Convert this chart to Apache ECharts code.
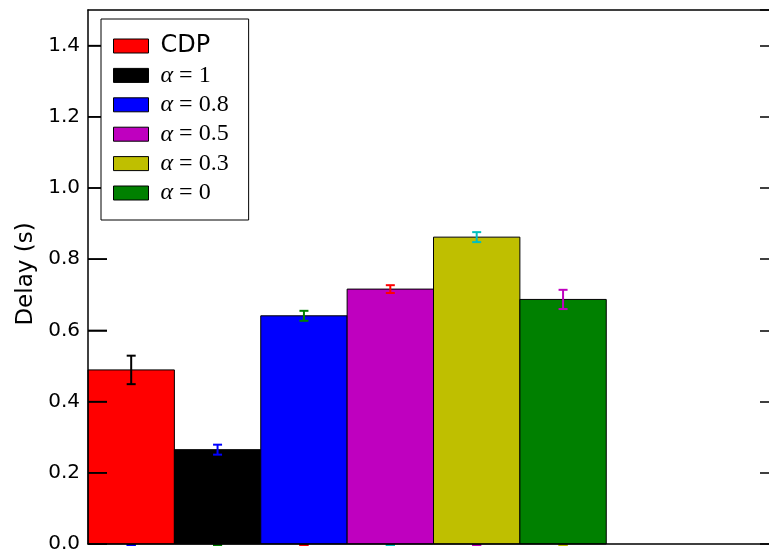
<!DOCTYPE html>
<html>
<head>
<meta charset="utf-8">
<script src="https://cdn.jsdelivr.net/npm/echarts@6/dist/echarts.min.js"></script>
<style>
  html, body { margin: 0; padding: 0; background: #fff; }
  #chart { width: 769px; height: 555px; }
</style>
</head>
<body>
<div id="chart"></div>
<script>
// Mean delay per scheme, with the half-width of each error bar
const schemes = ['CDP', 'α=1', 'α=0.8', 'α=0.5', 'α=0.3', 'α=0'];
const delays = [0.489, 0.265, 0.641, 0.716, 0.862, 0.687];
const errors = [0.040, 0.014, 0.014, 0.011, 0.014, 0.027];
// Secondary (zero-valued) measurements whose caps sit on the baseline
const baseValues = [0, 0, 0, 0, 0, 0];
const baseErrors = [0, 0, 0, 0, 0, 0];
const yTicks = [0.0, 0.2, 0.4, 0.6, 0.8, 1.0, 1.2, 1.4];

const barColors = ['#ff0000', '#000000', '#0000ff', '#bf00bf', '#bfbf00', '#008000'];
const errColors = ['#000000', '#0000ff', '#008000', '#ff0000', '#00bfbf', '#bf00bf'];
const baseErrColors = ['#0000ff', '#008000', '#ff0000', '#00bfbf', '#bf00bf', '#bfbf00'];

const chart = echarts.init(document.getElementById('chart'), null, { renderer: 'canvas' });

function barSeries(i) {
  return {
    type: 'custom',
    name: schemes[i],
    itemStyle: { color: barColors[i], borderColor: '#000', borderWidth: 1 },
    data: [[i, delays[i]]],
    z: 2,
    renderItem: function (params, api) {
      const x0 = api.value(0);
      const p0 = api.coord([x0, 0]);
      const p1 = api.coord([x0 + 1, api.value(1)]);
      return {
        type: 'rect',
        shape: { x: p0[0], y: p1[1], width: p1[0] - p0[0], height: p0[1] - p1[1] },
        style: { fill: barColors[i], stroke: '#000', lineWidth: 1 }
      };
    }
  };
}

function errorSeries(values, errs, colors, z, width) {
  return {
    type: 'custom',
    silent: true,
    z: z,
    data: values.map((v, i) => [i + 0.5, v, errs[i], i]),
    renderItem: function (params, api) {
      const x = api.value(0), v = api.value(1), e = api.value(2);
      const c = colors[api.value(3)];
      const lo = api.coord([x, v - e]);
      const hi = api.coord([x, v + e]);
      const cap = 4.5;
      const st = { stroke: c, lineWidth: width };
      return {
        type: 'group',
        children: [
          { type: 'line', shape: { x1: lo[0], y1: lo[1], x2: hi[0], y2: hi[1] }, style: st },
          { type: 'line', shape: { x1: lo[0] - cap, y1: lo[1], x2: lo[0] + cap, y2: lo[1] }, style: st },
          { type: 'line', shape: { x1: hi[0] - cap, y1: hi[1], x2: hi[0] + cap, y2: hi[1] }, style: st }
        ]
      };
    }
  };
}

// Inward tick marks along the left spine, drawn over the bars
const leftTickSeries = {
  type: 'custom',
  silent: true,
  clip: false,
  zlevel: 1,
  z: 1,
  data: yTicks.map(t => [0.1, t]),
  renderItem: function (params, api) {
    const p = api.coord([0, api.value(1)]);
    return {
      type: 'rect',
      shape: { x: p[0], y: p[1] - 0.75, width: 19, height: 1.5 },
      style: { fill: '#000' }
    };
  }
};

const series = schemes.map((_, i) => barSeries(i));
series.push(errorSeries(delays, errors, errColors, 5, 2));
series.push(errorSeries(baseValues, baseErrors, baseErrColors, 1, 4));
series.push(leftTickSeries);

function spine() {
  return { show: true, onZero: false, lineStyle: { color: '#000', width: 1.5 } };
}

const option = {
  animation: false,
  backgroundColor: '#ffffff',
  grid: { left: 88, top: 10, right: -10, bottom: 11, containLabel: false, outerBoundsMode: 'none' },
  xAxis: [
    {
      type: 'value', position: 'bottom', min: 0, max: 8, z: 10,
      axisLine: spine(),
      axisTick: { show: false }, axisLabel: { show: false }, splitLine: { show: false }
    },
    {
      type: 'value', position: 'top', min: 0, max: 8, z: 10,
      axisLine: spine(),
      axisTick: { show: false }, axisLabel: { show: false }, splitLine: { show: false }
    }
  ],
  yAxis: [
    {
      type: 'value', position: 'left', min: 0, max: 1.5, interval: 0.2, z: 10,
      name: 'Delay (s)', nameLocation: 'middle', nameRotate: 90, nameGap: 50,
      nameTextStyle: { fontFamily: 'DejaVu Sans', fontSize: 23, color: '#000', padding: [0, 0, 0, 6] },
      axisLine: spine(),
      axisTick: { show: true, inside: true, length: 19, lineStyle: { color: '#000', width: 1.5 } },
      axisLabel: {
        show: true, margin: 8, fontFamily: 'DejaVu Sans', fontSize: 20, color: '#000',
        showMaxLabel: false,
        formatter: v => (yTicks.some(t => Math.abs(t - v) < 1e-9) ? v.toFixed(1) : '')
      },
      splitLine: { show: false }
    },
    {
      type: 'value', position: 'right', min: 0, max: 1.5, interval: 0.2, z: 10,
      axisLine: spine(),
      axisTick: { show: true, inside: true, length: 19, lineStyle: { color: '#000', width: 1.5 } },
      axisLabel: { show: false }, splitLine: { show: false }
    }
  ],
  legend: {
    show: true, orient: 'vertical', left: 101, top: 19, zlevel: 2, z: 20,
    data: schemes,
    backgroundColor: '#fff', borderColor: '#000', borderWidth: 1, borderRadius: 0,
    padding: [15, 20, 15, 12],
    itemGap: 5.4, itemWidth: 35, itemHeight: 14, icon: 'rect',
    itemStyle: { borderColor: '#000', borderWidth: 1 },
    selectedMode: false,
    textStyle: {
      color: '#000', lineHeight: 24, padding: [0, 0, 0, 7],
      rich: {
        s: { fontFamily: 'DejaVu Sans', fontSize: 24, color: '#000', lineHeight: 24 },
        a: { fontFamily: 'Liberation Serif', fontStyle: 'italic', fontSize: 24, color: '#000', lineHeight: 24 },
        m: { fontFamily: 'Liberation Serif', fontSize: 24, color: '#000', lineHeight: 24 }
      }
    },
    formatter: function (name) {
      const k = name.indexOf('=');
      if (k < 0) return '{s|' + name + '}';
      return '{a|' + name.slice(0, k) + '}{m| = ' + name.slice(k + 1) + '}';
    }
  },
  series: series
};

chart.setOption(option);
</script>
</body>
</html>
